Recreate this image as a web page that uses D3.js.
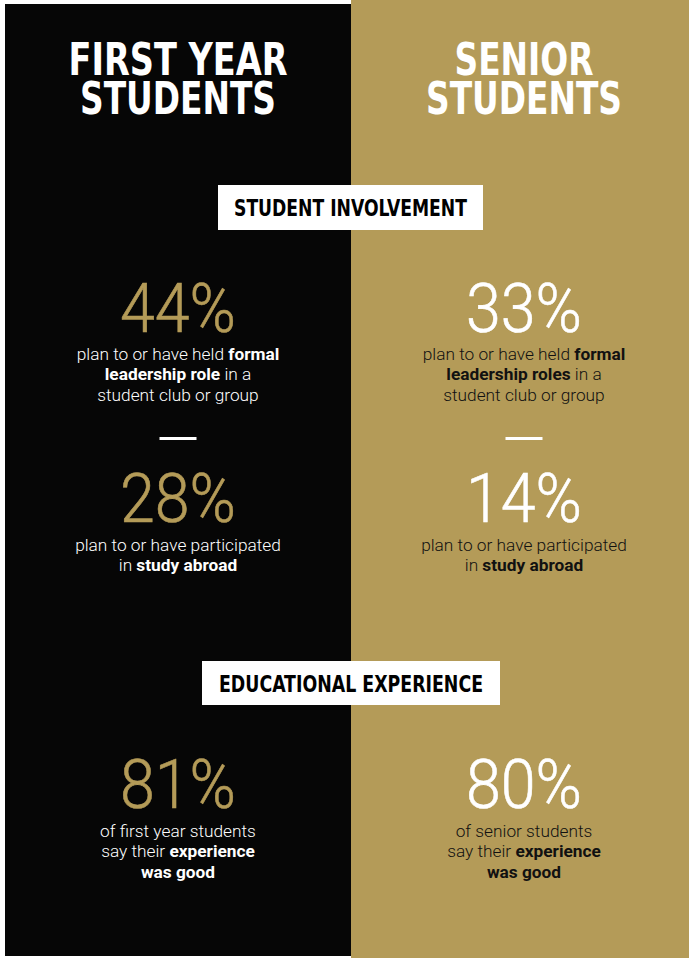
<!DOCTYPE html>
<html><head><meta charset="utf-8">
<script src="https://cdn.jsdelivr.net/npm/d3@7/dist/d3.min.js"></script>
<style>
html,body{margin:0;padding:0;background:#fff;}
svg{display:block;}
</style></head>
<body>
<svg id="chart" width="689" height="958"></svg>
<script>
// ---- data ----
const groups = ["first", "senior"];
const headingLines = [["FIRST YEAR", "STUDENTS"], ["SENIOR", "STUDENTS"]];
const sectionTitles = ["STUDENT INVOLVEMENT", "EDUCATIONAL EXPERIENCE"];
const leadershipValues = [44, 33];
const studyAbroadValues = [28, 14];
const experienceValues = [81, 80];
const leadershipText = [
  [[["plan to or have held ", false], ["formal", true]], [["leadership role", true], [" in a", false]], [["student club or group", false]]],
  [[["plan to or have held ", false], ["formal", true]], [["leadership roles", true], [" in a", false]], [["student club or group", false]]]
];
const abroadText = [
  [[["plan to or have participated", false]], [["in ", false], ["study abroad", true]]],
  [[["plan to or have participated", false]], [["in ", false], ["study abroad", true]]]
];
const experienceText = [
  [[["of first year students", false]], [["say their ", false], ["experience", true]], [["was good", true]]],
  [[["of senior students", false]], [["say their ", false], ["experience", true]], [["was good", true]]]
];

// ---- style ----
const W = 689, H = 958;
const GOLD = "#b49b58", BLACK = "#060606";
const panelFill = [BLACK, GOLD];
const numFill = [GOLD, "#ffffff"];
const bodyFill = ["#ffffff", "#111111"];
const condensed = "'Liberation Sans Narrow','Arial Narrow','DejaVu Sans Condensed',sans-serif";
const light = "Roboto,'Helvetica Neue',Arial,sans-serif";

const svg = d3.select("#chart");
svg.append("rect").attr("width", W).attr("height", H).attr("fill", "#fff");

const x = d3.scaleBand().domain(groups).range([5, 697]).padding(0);
const cx = g => x(g) + x.bandwidth() / 2;

// panels
svg.selectAll("rect.panel").data(groups).join("rect")
  .attr("class", "panel")
  .attr("x", g => x(g))
  .attr("y", (g, i) => i === 0 ? 4 : 0)
  .attr("width", g => Math.min(x.bandwidth(), W - x(g)))
  .attr("height", (g, i) => i === 0 ? 952 : H)
  .attr("fill", (g, i) => panelFill[i]);

// headings
const headingWidths = [[219, 196], [139, 196]];
groups.forEach((g, i) => {
  headingLines[i].forEach((line, j) => {
    svg.append("text")
      .attr("x", cx(g) - headingWidths[i][j] / 2)
      .attr("y", 75 + j * 39)
      .attr("textLength", headingWidths[i][j])
      .attr("lengthAdjust", "spacingAndGlyphs")
      .attr("font-family", condensed).attr("font-weight", 700)
      .attr("font-size", 45).attr("fill", "#fff")
      .text(line);
  });
});

// section boxes
const boxes = [
  {title: sectionTitles[0], x0: 218, x1: 483, y0: 185, y1: 230, tl: 233, base: 216},
  {title: sectionTitles[1], x0: 202, x1: 500, y0: 661, y1: 705, tl: 264, base: 692}
];
boxes.forEach(b => {
  svg.append("rect").attr("x", b.x0).attr("y", b.y0)
    .attr("width", b.x1 - b.x0).attr("height", b.y1 - b.y0).attr("fill", "#fff");
  const mid = (b.x0 + b.x1) / 2;
  svg.append("text").attr("x", mid - b.tl / 2).attr("y", b.base)
    .attr("textLength", b.tl).attr("lengthAdjust", "spacingAndGlyphs")
    .attr("font-family", condensed).attr("font-weight", 700)
    .attr("font-size", 23).attr("fill", "#000").text(b.title);
});

// stat blocks
function stat(values, texts, numBase, textBase) {
  groups.forEach((g, i) => {
    svg.append("text").attr("x", cx(g) - 58).attr("y", numBase)
      .attr("textLength", 116).attr("lengthAdjust", "spacingAndGlyphs")
      .attr("font-family", light).attr("font-weight", 300)
      .attr("font-size", 68).attr("fill", numFill[i])
      .attr("stroke", numFill[i]).attr("stroke-width", 0.6)
      .text(values[i] + "%");
    texts[i].forEach((segs, j) => {
      const t = svg.append("text").attr("x", cx(g)).attr("y", textBase + j * 20.3)
        .attr("text-anchor", "middle")
        .attr("font-family", light).attr("font-size", 17.3).attr("fill", bodyFill[i]);
      segs.forEach(([s, b]) => {
        t.append("tspan").attr("font-weight", b ? 700 : 300).text(s);
      });
    });
  });
}
stat(leadershipValues, leadershipText, 332, 360);
stat(studyAbroadValues, abroadText, 522, 551);
stat(experienceValues, experienceText, 808, 837);

// dashes
groups.forEach((g, i) => {
  svg.append("rect").attr("x", cx(g) - 18.5).attr("y", 437)
    .attr("width", 37).attr("height", 3).attr("fill", "#fff");
});
</script>
</body></html>
